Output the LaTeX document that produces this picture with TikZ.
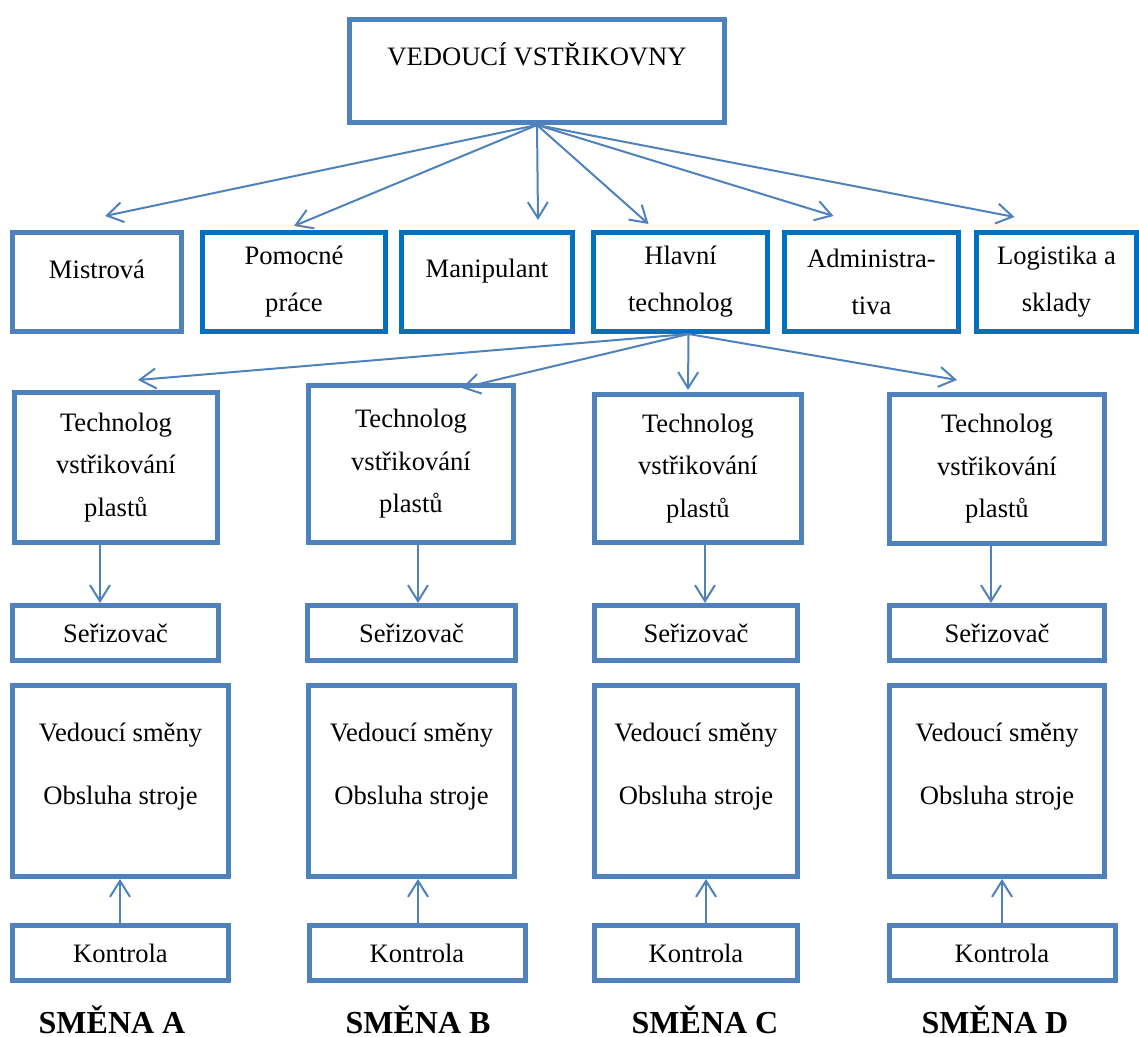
\documentclass[tikz,border=0pt]{standalone}
\usepackage{fontspec}
\setmainfont{Liberation Serif}
\usetikzlibrary{arrows.meta}
\definecolor{steel}{HTML}{4F81BD}
\definecolor{ocean}{HTML}{0070C0}

\begin{document}
\begin{tikzpicture}[x=0.5pt, y=-0.5pt,
  box/.style={draw=steel, line width=2.5pt, inner sep=0pt,
    font=\fontsize{13.3pt}{21.25pt}\selectfont},
  darkbox/.style={box, draw=ocean, font=\fontsize{13.3pt}{23.5pt}\selectfont},
  raised/.style={text height=9pt, text depth=#1},
  twolines/.style={align=center, font=\fontsize{13.3pt}{31.5pt}\selectfont},
  arr/.style={draw=steel, line width=1pt, -{Straight Barb[length=8pt,width=10pt]}},
  smena/.style={font=\fontsize{16pt}{18pt}\selectfont\bfseries, inner sep=0pt,
    text depth=0pt, anchor=base}]
  \useasboundingbox (0,0) rectangle (1139,1037);

  % vedeni
  \node[box, minimum width=187.5pt, minimum height=51.5pt, raised=14.2pt] (vv) at (537,71) {VEDOUCÍ VSTŘIKOVNY};

  % druha rada
  \node[box, minimum width=84.5pt, minimum height=49.5pt, raised=12.2pt] (mi) at (97,282) {Mistrová};
  \node[darkbox, align=center, minimum width=91.5pt, minimum height=49.5pt] (po) at (294,282) {Pomocné\\práce};
  \node[darkbox, minimum width=85.5pt, minimum height=49.5pt, raised=13.2pt] (mp) at (487,282) {Manipulant};
  \node[darkbox, align=center, minimum width=87pt, minimum height=49.5pt] (hl) at (680.5,282) {Hlavní\\technolog};
  \node[darkbox, align=center, minimum width=87pt, minimum height=49.5pt] (ad) at (871.5,282) {Administra-\\tiva};
  \node[darkbox, align=center, minimum width=80pt, minimum height=49.5pt] (lg) at (1056.5,282) {Logistika a\\sklady};

  \foreach \n/\dx/\dy in {mi/4/7, po/0/2, mp/25.5/5, hl/-16/3, ad/-19/7, lg/-21/6.5}
    \draw[arr] (vv.south) -- ([xshift=\dx pt,yshift=\dy pt]\n.north);

  % smeny
  \foreach \c/\xt/\wt/\yt/\htech/\xs/\ws/\xv/\wv/\xk/\wk/\xa/\xb/\xl in
    {A/116/101.5/467.5/75/115.5/103/120.5/108/120.5/108/100/120/112,
     B/411/102.5/464/78.5/411.5/104/411.5/103/417/108/418/418/418,
     C/698/103.5/468.5/74/696/101.5/696/101.5/696/101.5/705/706/705,
     D/997/107.5/469/74.5/997/107.5/997/107.5/1002/113/991/1002/995}
  {
    \node[box, align=center, minimum width=\wt pt, minimum height=\htech pt] (t\c) at (\xt,\yt)
      {Technolog\\vstřikování\\plastů};
    \node[box, minimum width=\ws pt, minimum height=27.5pt] (s\c) at (\xs,633) {Seřizovač};
    \node[box, minimum width=\wv pt, minimum height=95.5pt] (v\c) at (\xv,781) {};
    \node[twolines] (vt\c) at ([yshift=7.25pt]v\c.center) {Vedoucí směny\\Obsluha stroje};
    \node[box, minimum width=\wk pt, minimum height=27.5pt] (k\c) at (\xk,953) {Kontrola};
    \node[smena] (n\c) at (\xl,1033) {SMĚNA \c};
    \draw[arr] (t\c.south -| \xa,0) -- (s\c.north -| \xa,0);
    \draw[arr] (k\c.north -| \xb,0) -- (v\c.south -| \xb,0);
  }

  \foreach \c/\dx/\dy in {A/11/5, B/25.5/-2.5, C/-5/1, D/-20/6}
    \draw[arr] ([xshift=4pt]hl.south) -- ([xshift=\dx pt,yshift=\dy pt]t\c.north);
\end{tikzpicture}
\end{document}
